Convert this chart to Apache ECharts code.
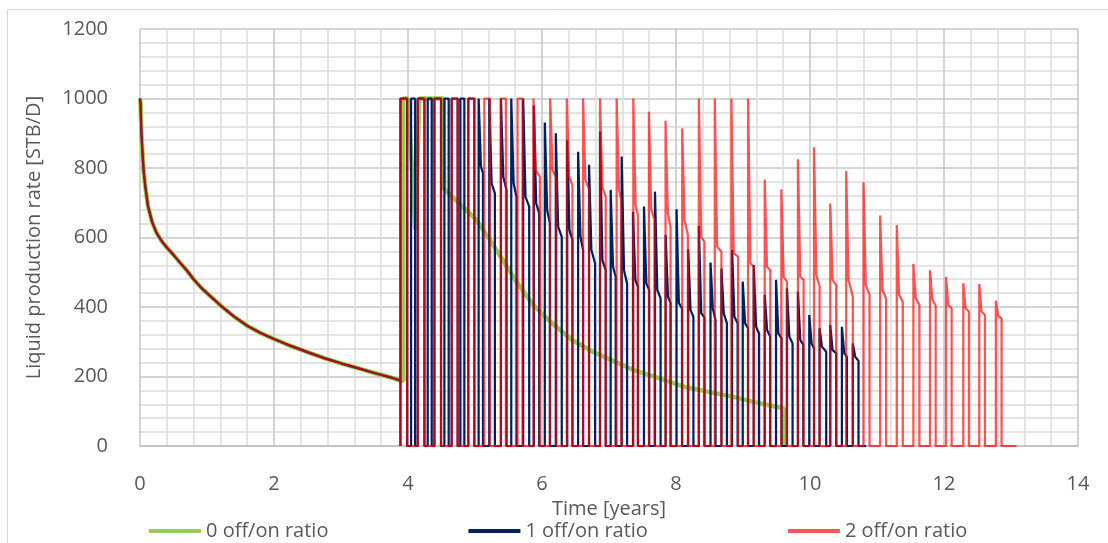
<!DOCTYPE html>
<html><head><meta charset="utf-8">
<script src="https://cdn.jsdelivr.net/npm/echarts@6/dist/echarts.min.js"></script>
<style>html,body{margin:0;padding:0;background:#fff}#c{width:1108px;height:543px}</style>
</head><body><div id="c"></div>
<script>
// ---------- DATA ----------
const seriesNames = ['0 off/on ratio', '1 off/on ratio', '2 off/on ratio'];

// common initial decline [time (years), rate (STB/D)] shared by all three cases
const initialDecline = [
  [0, 1000], [0.008, 985], [0.02, 905], [0.035, 850], [0.055, 790], [0.08, 745],
  [0.12, 690], [0.18, 645], [0.25, 612], [0.33, 588], [0.42, 567], [0.5, 550],
  [0.6, 527], [0.7, 505], [0.8, 480], [0.9, 458], [1.0, 440], [1.2, 405],
  [1.4, 373], [1.6, 346], [1.8, 325], [2.0, 308], [2.25, 288], [2.5, 270],
  [2.75, 253], [3.0, 238], [3.25, 224], [3.5, 210], [3.75, 197], [3.887, 188]
];

// 0 off/on ratio after the restart
const greenAfter = [
  [3.93, 188], [3.93, 1000], [4.0, 1000], [4.11, 622], [4.17, 1000], [4.53, 1000],
  [4.54, 740], [4.75, 700], [5.0, 655], [5.2, 600], [5.4, 540], [5.6, 478],
  [5.85, 410], [6.15, 353], [6.45, 305], [6.75, 272], [7.0, 250], [7.35, 220],
  [7.72, 197], [8.09, 172], [8.5, 155], [8.84, 142], [9.2, 125], [9.61, 108], [9.61, 0]
];

// pulses: [on time, off time, peak rate, rate after initial drop, rate at shut-in]
const navyPulses = [
  [3.887, 3.987, 1000, 1000, 1000], [4.046, 4.106, 1000, 1000, 1000],
  [4.146, 4.245, 1000, 1000, 1000], [4.294, 4.354, 1000, 1000, 1000],
  [4.394, 4.493, 1000, 1000, 1000], [4.543, 4.607, 1000, 1000, 1000],
  [4.652, 4.741, 1000, 1000, 1000], [4.781, 4.841, 1000, 1000, 1000],
  [4.900, 4.990, 1000, 1000, 1000],
  [5.054, 5.119, 1000, 804, 785], [5.213, 5.297, 1000, 756, 727],
  [5.387, 5.471, 1000, 775, 737], [5.541, 5.620, 1000, 756, 717],
  [5.719, 5.809, 1000, 717, 689], [5.878, 5.958, 980, 698, 670],
  [6.042, 6.117, 931, 679, 641], [6.206, 6.295, 900, 631, 602],
  [6.375, 6.454, 880, 622, 593], [6.539, 6.613, 847, 602, 564],
  [6.702, 6.792, 809, 564, 526], [6.866, 6.951, 905, 535, 506],
  [7.025, 7.100, 737, 516, 487], [7.189, 7.270, 833, 506, 468],
  [7.358, 7.432, 674, 478, 459], [7.522, 7.600, 689, 468, 449],
  [7.686, 7.770, 732, 449, 425], [7.845, 7.919, 607, 430, 411],
  [8.008, 8.090, 681, 411, 396], [8.182, 8.260, 566, 391, 372],
  [8.341, 8.425, 633, 382, 370], [8.515, 8.590, 528, 395, 363],
  [8.678, 8.760, 511, 382, 353], [8.837, 8.920, 564, 372, 353],
  [8.996, 9.075, 473, 353, 339], [9.160, 9.240, 521, 343, 324],
  [9.324, 9.405, 435, 334, 315], [9.493, 9.575, 478, 324, 310],
  [9.656, 9.740, 454, 315, 295], [9.820, 9.900, 444, 305, 291],
  [9.989, 10.060, 377, 295, 281], [10.143, 10.242, 339, 286, 271],
  [10.302, 10.391, 348, 276, 267], [10.476, 10.550, 343, 267, 257],
  [10.639, 10.724, 295, 257, 245]
];
const navyEnd = 10.838;

const redPulses = [
  [3.887, 3.987, 1000, 1000, 1000], [4.146, 4.245, 1000, 1000, 1000],
  [4.394, 4.493, 1000, 1000, 1000], [4.652, 4.741, 1000, 1000, 1000],
  [4.900, 4.990, 1000, 1000, 1000], [5.139, 5.223, 1000, 1000, 1000],
  [5.387, 5.461, 1000, 1000, 1000], [5.635, 5.709, 1000, 1000, 1000],
  [5.873, 5.968, 1000, 794, 775], [6.122, 6.216, 1000, 794, 770],
  [6.370, 6.454, 1000, 775, 751], [6.613, 6.702, 1000, 765, 741],
  [6.866, 6.951, 1000, 746, 717], [7.114, 7.184, 1000, 737, 708],
  [7.363, 7.432, 1000, 690, 665], [7.596, 7.680, 962, 680, 650],
  [7.844, 7.919, 936, 670, 630], [8.093, 8.177, 914, 650, 607],
  [8.341, 8.425, 1000, 602, 588], [8.579, 8.678, 1000, 574, 559],
  [8.827, 8.927, 1000, 554, 545], [9.076, 9.160, 1000, 526, 516],
  [9.324, 9.408, 767, 516, 506], [9.572, 9.656, 739, 487, 473],
  [9.820, 9.905, 825, 487, 478], [10.060, 10.143, 860, 492, 459],
  [10.302, 10.391, 698, 478, 463], [10.540, 10.639, 791, 478, 430],
  [10.798, 10.888, 759, 463, 435], [11.047, 11.136, 663, 449, 425],
  [11.295, 11.385, 636, 435, 415], [11.543, 11.633, 524, 425, 406],
  [11.791, 11.876, 506, 422, 403], [12.030, 12.114, 487, 406, 396],
  [12.288, 12.372, 468, 396, 387], [12.526, 12.611, 466, 387, 377],
  [12.774, 12.859, 418, 374, 367]
];
const redEnd = 13.082;

// ---------- build line data ----------
const KNEE_DT = 0.035;
function pulsesToPoints(pulses) {
  const pts = [];
  pulses.forEach(([t0, t1, peak, knee, end]) => {
    pts.push([t0, 0], [t0, peak]);
    if (knee !== peak) pts.push([t0 + KNEE_DT, knee]);
    pts.push([t1, end], [t1, 0]);
  });
  return pts;
}
const greenData = initialDecline.concat(greenAfter);
const navyData = initialDecline.concat(pulsesToPoints(navyPulses), [[navyEnd, 0]]);
const redData = initialDecline.concat(pulsesToPoints(redPulses), [[redEnd, 0]]);

const FONT = 'Open Sans';
const TXT = '#595959';
const plain = v => String(v);
const chart = echarts.init(document.getElementById('c'), null, {renderer: 'canvas'});
chart.setOption({
  animation: false,
  backgroundColor: '#ffffff',
  textStyle: {fontFamily: FONT},
  graphic: [{
    type: 'rect', silent: true, z: -10,
    shape: {x: 7.5, y: 9.5, width: 1200, height: 700},
    style: {fill: 'none', stroke: '#D9D9D9', lineWidth: 1}
  }],
  grid: {left: 140, right: 30, top: 29, bottom: 97, containLabel: false, outerBoundsMode: 'none'},
  legend: {
    left: 144, bottom: -3, itemWidth: 52, itemHeight: 4, itemGap: 140, icon: 'rect',
    textStyle: {color: TXT, fontSize: 20, fontFamily: FONT},
    data: seriesNames
  },
  xAxis: {
    type: 'value', min: 0, max: 14, interval: 2,
    name: 'Time [years]', nameLocation: 'middle', nameGap: 53,
    nameTextStyle: {color: TXT, fontSize: 20, fontFamily: FONT},
    axisLine: {show: true, lineStyle: {color: '#BFBFBF', width: 1.5}},
    axisTick: {show: false},
    axisLabel: {color: TXT, fontSize: 20, margin: 28, fontFamily: FONT, formatter: plain},
    splitLine: {show: true, lineStyle: {color: '#C6C6C6', width: 1.5}},
    minorTick: {show: false, splitNumber: 5},
    minorSplitLine: {show: true, lineStyle: {color: '#DCDCDC', width: 1.5}}
  },
  yAxis: {
    type: 'value', min: 0, max: 1200, interval: 200,
    name: 'Liquid production rate [STB/D]', nameLocation: 'middle', nameGap: 96,
    nameTextStyle: {color: TXT, fontSize: 20, fontFamily: FONT},
    axisLine: {show: false}, axisTick: {show: false},
    axisLabel: {color: TXT, fontSize: 20, margin: 32, fontFamily: FONT, formatter: plain},
    splitLine: {show: true, lineStyle: {color: '#C6C6C6', width: 1.5}},
    minorTick: {show: false, splitNumber: 5},
    minorSplitLine: {show: true, lineStyle: {color: '#DCDCDC', width: 1.5}}
  },
  series: [
    {name: seriesNames[0], type: 'line', data: greenData, showSymbol: false, symbol: 'none',
     lineStyle: {color: '#92D050', width: 4.5}, itemStyle: {color: '#92D050'}, z: 2},
    {name: seriesNames[1], type: 'line', data: navyData, showSymbol: false, symbol: 'none',
     lineStyle: {color: '#002060', width: 2.25}, itemStyle: {color: '#002060'}, z: 3},
    {name: seriesNames[2], type: 'line', data: redData, showSymbol: false, symbol: 'none',
     lineStyle: {color: 'rgba(255,0,0,0.67)', width: 2.25}, itemStyle: {color: 'rgba(255,0,0,0.67)'}, z: 4}
  ]
});
</script>
</body></html>
